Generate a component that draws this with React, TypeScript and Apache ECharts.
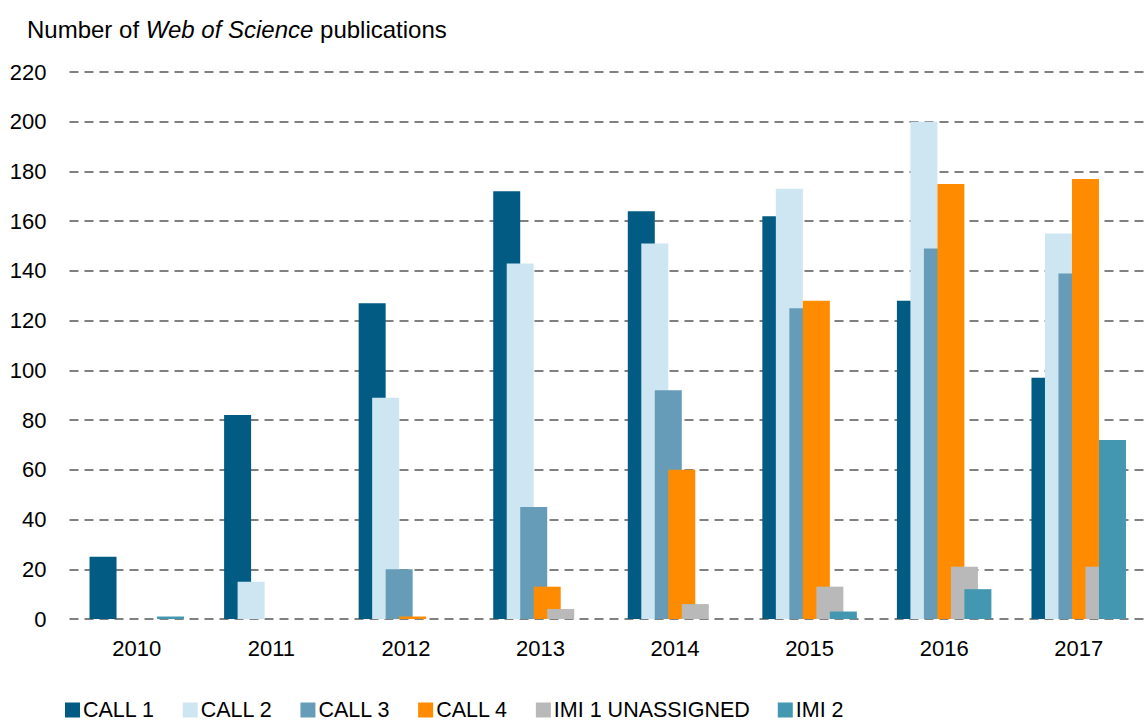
import React, { useEffect, useRef } from "react";
import * as echarts from "echarts";

const years = ["2010", "2011", "2012", "2013", "2014", "2015", "2016", "2017"];
const seriesNames = ["CALL 1", "CALL 2", "CALL 3", "CALL 4", "IMI 1 UNASSIGNED", "IMI 2"];
const call1 = [25, 82, 127, 172, 164, 162, 128, 97];
const call2 = [0, 15, 89, 143, 151, 173, 200, 155];
const call3 = [0, 0, 20, 45, 92, 125, 149, 139];
const call4 = [0, 0, 1, 13, 60, 128, 175, 177];
const imi1 = [0, 0, 0, 4, 6, 13, 21, 21];
const imi2 = [1, 0, 0, 0, 0, 3, 12, 72];
const colors = ["#025B83", "#CEE6F1", "#679CB8", "#FF8C00", "#B9B9B9", "#4497B0"];

export default function App() {
  const ref = useRef<HTMLDivElement>(null);
  useEffect(() => {
    if (!ref.current) return;
    const chart = echarts.init(ref.current, undefined, { renderer: "svg" });
    const data = [call1, call2, call3, call4, imi1, imi2];
    chart.setOption({
      animation: false,
      backgroundColor: "#fff",
      textStyle: { fontFamily: "Liberation Sans, Arial, sans-serif" },
      title: {
        left: 27,
        top: 17,
        padding: 0,
        text: "Number of {i|Web of Science} publications",
        textStyle: {
          fontSize: 24,
          fontWeight: "normal",
          color: "#000",
          fontFamily: "Liberation Sans",
          rich: {
            i: { fontStyle: "italic", fontSize: 24, color: "#000", fontFamily: "Liberation Sans" },
          },
        },
      },
      legend: {
        left: 65,
        top: 699,
        padding: 0,
        itemWidth: 15,
        itemHeight: 15,
        itemGap: 28,
        icon: "rect",
        textStyle: {
          fontSize: 21.5,
          lineHeight: 18,
          color: "#000",
          fontFamily: "Liberation Sans",
          padding: [0, 0, 0, -2],
        },
        data: seriesNames,
      },
      grid: { left: 69.5, right: -11, top: 72, bottom: 103, containLabel: false },
      xAxis: {
        type: "category",
        data: years,
        axisLine: { show: false },
        axisTick: { show: false },
        axisLabel: { fontSize: 22, color: "#000", margin: 18 },
      },
      yAxis: {
        type: "value",
        min: 0,
        max: 220,
        interval: 20,
        axisLine: { show: false },
        axisTick: { show: false },
        axisLabel: { fontSize: 22, color: "#000", margin: 23 },
        splitLine: { lineStyle: { type: [9, 6], color: "#808080", width: 2 } },
      },
      series: seriesNames.map((name, i) => ({
        name,
        type: "bar",
        data: data[i],
        barWidth: 27,
        barGap: "-50%",
        itemStyle: { color: colors[i] },
      })),
    });
    return () => chart.dispose();
  }, []);
  return <div ref={ref} style={{ position: "absolute", left: 0, top: 0, width: 1146, height: 722 }} />;
}
